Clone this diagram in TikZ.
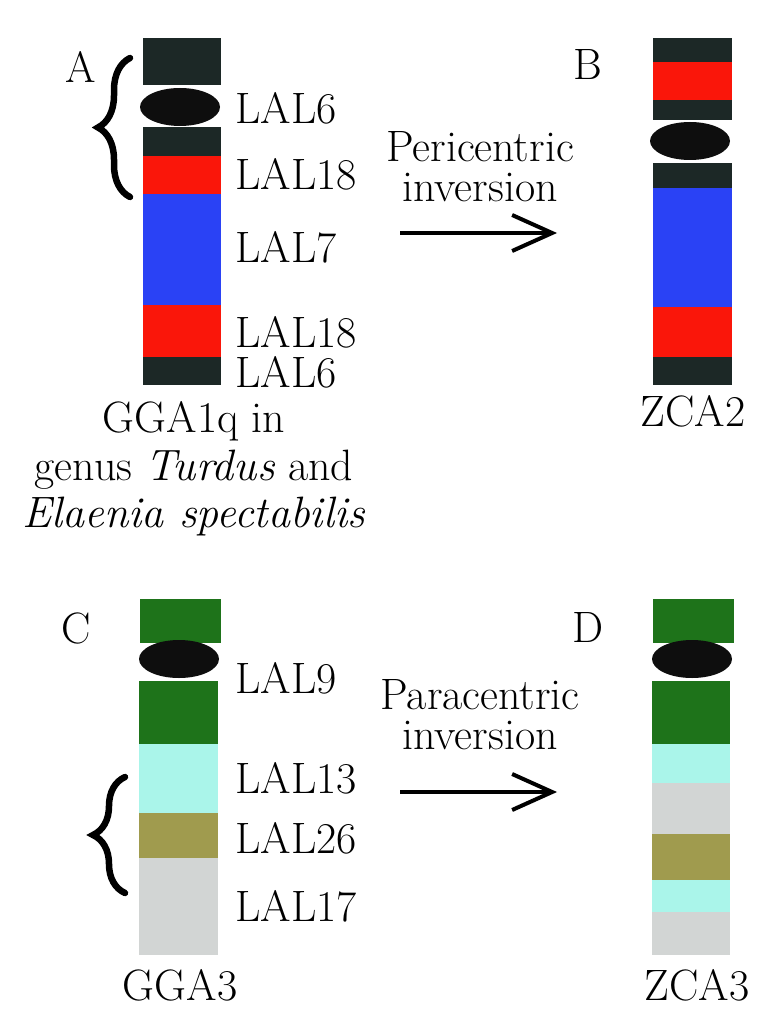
\documentclass[tikz,border=0pt]{standalone}
\usepackage{fontspec}
\usetikzlibrary{arrows.meta,decorations.pathreplacing}

\definecolor{bandDark}{RGB}{28,40,38}
\definecolor{bandRed}{RGB}{250,22,10}
\definecolor{bandBlue}{RGB}{42,66,245}
\definecolor{bandGreen}{RGB}{30,115,26}
\definecolor{bandCyan}{RGB}{170,245,234}
\definecolor{bandOlive}{RGB}{160,155,78}
\definecolor{bandGrey}{RGB}{210,213,212}
\definecolor{centroBlack}{RGB}{14,14,14}

\begin{document}
\begin{tikzpicture}[x=0.2mm,y=-0.2mm,
    lbl/.style={anchor=west,inner sep=0pt,font=\fontsize{25}{27}\selectfont},
    txt/.style={inner sep=0pt,align=center,font=\fontsize{25}{27}\selectfont},
    arr/.style={line width=0.8mm,-{Straight Barb[length=8mm,width=7.2mm]}},
    brc/.style={line width=1.3mm,line cap=round,decorate,decoration={brace,amplitude=6.4mm}}]
    \useasboundingbox (0,0) rectangle (756,1015);

    % Chromosome A (GGA1q)
    \foreach \top/\bot/\col in {38/85/bandDark, 127/156/bandDark, 156/194/bandRed,
        194/305/bandBlue, 305/357/bandRed, 357/385/bandDark} {
        \fill[\col] (143,\top) rectangle (221,\bot);
    }
    \fill[centroBlack] (180,107) ellipse [x radius=40, y radius=19];
    \node[txt] (lblA) at (81,67) {A};
    \foreach \i/\y/\label in {1/108/LAL6, 2/174/LAL18, 3/247/LAL7, 4/332/LAL18, 5/372/LAL6} {
        \node[lbl] (lalA\i) at (235,\y) {\label};
    }
    \node[txt] (gga1q) at (194,469)
        {GGA1q in\\genus \textit{Turdus} and\\\textit{Elaenia spectabilis}};
    \coordinate (braceAbot) at (130,197);
    \coordinate (braceAtop) at (130,58);
    \draw[brc] (braceAbot) -- (braceAtop); % inverted segment

    % Pericentric inversion
    \node[txt,font=\fontsize{25}{22.7}\selectfont] (peri) at (480,167) {Pericentric\\inversion};
    \coordinate (periS) at (400,233);
    \coordinate (periE) at (557,233);
    \draw[arr] (periS) -- (periE);

    % Chromosome B (ZCA2)
    \foreach \top/\bot/\col in {38/62/bandDark, 62/100/bandRed, 100/120/bandDark,
        163/188/bandDark, 188/307/bandBlue, 307/357/bandRed, 357/385/bandDark} {
        \fill[\col] (653,\top) rectangle (732,\bot);
    }
    \fill[centroBlack] (690,141) ellipse [x radius=40, y radius=19];
    \node[txt] (lblB) at (588,65) {B};
    \node[txt] (zca2) at (693,411) {ZCA2};

    % Chromosome C (GGA3)
    \fill[bandGreen] (140,599) rectangle (221,643);
    \foreach \top/\bot/\col in {681/744/bandGreen, 744/813/bandCyan,
        813/858/bandOlive, 858/955/bandGrey} {
        \fill[\col] (139,\top) rectangle (218,\bot);
    }
    \fill[centroBlack] (179,659) ellipse [x radius=40, y radius=19];
    \node[txt] (lblC) at (76,628) {C};
    \foreach \i/\y/\label in {1/678/LAL9, 2/778/LAL13, 3/838/LAL26, 4/906/LAL17} {
        \node[lbl] (lalC\i) at (235,\y) {\label};
    }
    \node[txt] (gga3) at (180,985) {GGA3};
    \coordinate (braceCbot) at (125,893);
    \coordinate (braceCtop) at (125,777);
    \draw[brc] (braceCbot) -- (braceCtop); % inverted segment

    % Paracentric inversion
    \node[txt,font=\fontsize{25}{22.7}\selectfont] (para) at (480,715) {Paracentric\\inversion};
    \coordinate (paraS) at (400,792);
    \coordinate (paraE) at (557,792);
    \draw[arr] (paraS) -- (paraE);

    % Chromosome D (ZCA3)
    \fill[bandGreen] (653,599) rectangle (734,643);
    \foreach \top/\bot/\col in {681/744/bandGreen, 744/783/bandCyan, 783/834/bandGrey,
        834/880/bandOlive, 880/912/bandCyan, 912/955/bandGrey} {
        \fill[\col] (652,\top) rectangle (730,\bot);
    }
    \fill[centroBlack] (692,659) ellipse [x radius=40, y radius=19];
    \node[txt] (lblD) at (588,627) {D};
    \node[txt] (zca3) at (697,985) {ZCA3};
\end{tikzpicture}
\end{document}
